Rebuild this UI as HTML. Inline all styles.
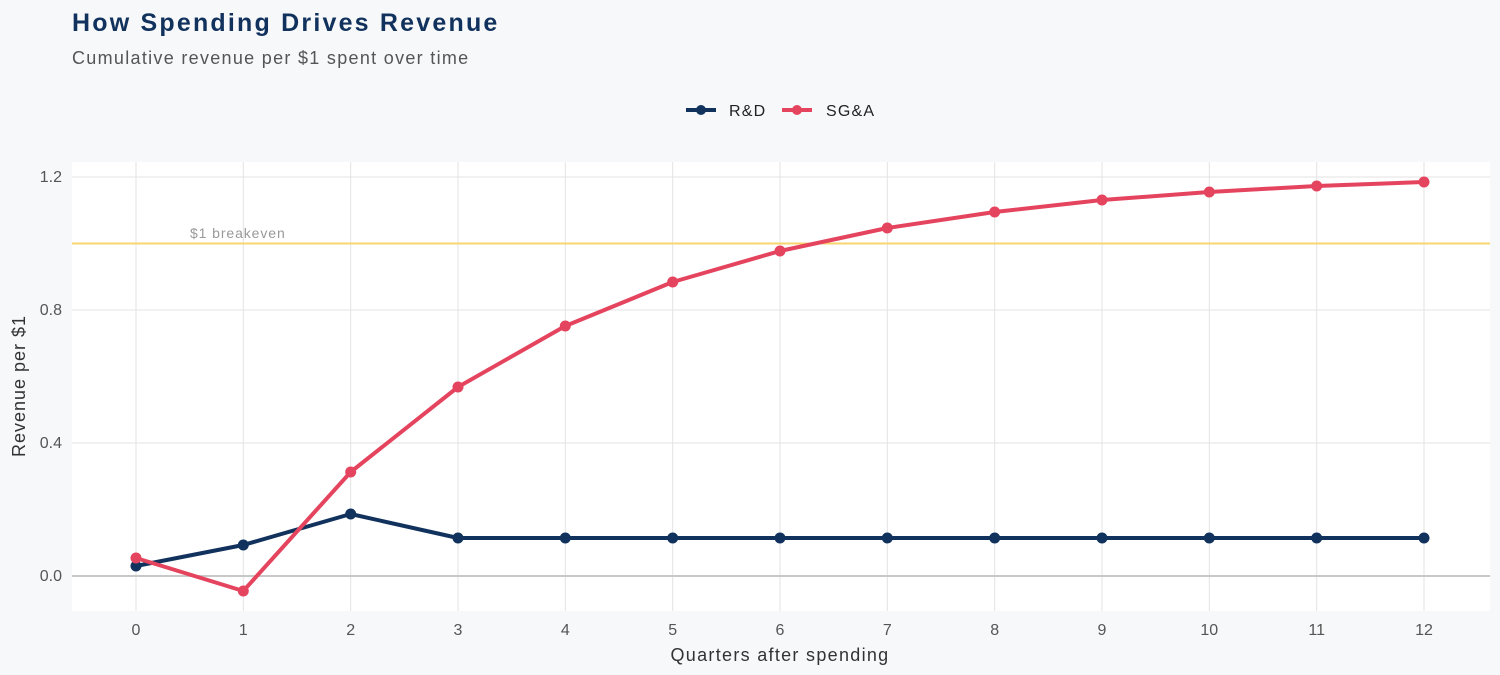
<!DOCTYPE html>
<html><head><meta charset="utf-8"><style>
html,body{margin:0;padding:0;background:#f7f8fa;}
svg{display:block;font-family:"Liberation Sans",sans-serif;}
</style></head><body>
<svg width="1500" height="675" viewBox="0 0 1500 675">
<rect width="1500" height="675" fill="#f7f8fa"/>
<text x="72" y="31" font-size="25" font-weight="bold" fill="#12325e" letter-spacing="2.2">How Spending Drives Revenue</text>
<text x="72" y="64" font-size="18" fill="#555" letter-spacing="1.3">Cumulative revenue per $1 spent over time</text>
<line x1="686" y1="110" x2="716" y2="110" stroke="#12325e" stroke-width="4"/><circle cx="701" cy="110" r="5" fill="#12325e"/>
<text x="729" y="116" font-size="16" fill="#222" letter-spacing="1.2">R&amp;D</text>
<line x1="782" y1="110" x2="812" y2="110" stroke="#e5445e" stroke-width="4"/><circle cx="797" cy="110" r="5" fill="#e5445e"/>
<text x="826" y="116" font-size="16" fill="#222" letter-spacing="1.2">SG&amp;A</text>
<rect x="72" y="162" width="1418" height="449" fill="#fff"/>
<g stroke="#e3e3e3" stroke-width="1">
<line x1="72" y1="177" x2="1490" y2="177"/><line x1="72" y1="310" x2="1490" y2="310"/><line x1="72" y1="443" x2="1490" y2="443"/>
<line x1="136" y1="162" x2="136" y2="611"/><line x1="243.3" y1="162" x2="243.3" y2="611"/><line x1="350.7" y1="162" x2="350.7" y2="611"/><line x1="458" y1="162" x2="458" y2="611"/><line x1="565.3" y1="162" x2="565.3" y2="611"/><line x1="672.7" y1="162" x2="672.7" y2="611"/><line x1="780" y1="162" x2="780" y2="611"/><line x1="887.3" y1="162" x2="887.3" y2="611"/><line x1="994.7" y1="162" x2="994.7" y2="611"/><line x1="1102" y1="162" x2="1102" y2="611"/><line x1="1209.3" y1="162" x2="1209.3" y2="611"/><line x1="1316.7" y1="162" x2="1316.7" y2="611"/><line x1="1424" y1="162" x2="1424" y2="611"/>
</g>
<line x1="72" y1="576" x2="1490" y2="576" stroke="#c8c8c8" stroke-width="2"/>
<line x1="72" y1="243.5" x2="1490" y2="243.5" stroke="#f9d56e" stroke-width="2"/>
<text x="190" y="238" font-size="14" fill="#999" letter-spacing="0.9">$1 breakeven</text>
<g font-size="16" fill="#555" text-anchor="end">
<text x="62" y="182">1.2</text><text x="62" y="315">0.8</text><text x="62" y="448">0.4</text><text x="62" y="581">0.0</text>
</g>
<g font-size="16" fill="#555" text-anchor="middle">
<text x="136" y="635">0</text><text x="243.3" y="635">1</text><text x="350.7" y="635">2</text><text x="458" y="635">3</text><text x="565.3" y="635">4</text><text x="672.7" y="635">5</text><text x="780" y="635">6</text><text x="887.3" y="635">7</text><text x="994.7" y="635">8</text><text x="1102" y="635">9</text><text x="1209.3" y="635">10</text><text x="1316.7" y="635">11</text><text x="1424" y="635">12</text>
</g>
<text x="780" y="661" font-size="18" fill="#333" text-anchor="middle" letter-spacing="1.3">Quarters after spending</text>
<text transform="translate(25,386) rotate(-90)" font-size="18" fill="#333" text-anchor="middle" letter-spacing="1">Revenue per $1</text>
<polyline fill="none" stroke="#12325e" stroke-width="4" stroke-linejoin="round" points="136,566 243.3,545 350.7,514 458,538 565.3,538 672.7,538 780,538 887.3,538 994.7,538 1102,538 1209.3,538 1316.7,538 1424,538"/>
<g fill="#12325e"><circle cx="136" cy="566" r="5.5"/><circle cx="243.3" cy="545" r="5.5"/><circle cx="350.7" cy="514" r="5.5"/><circle cx="458" cy="538" r="5.5"/><circle cx="565.3" cy="538" r="5.5"/><circle cx="672.7" cy="538" r="5.5"/><circle cx="780" cy="538" r="5.5"/><circle cx="887.3" cy="538" r="5.5"/><circle cx="994.7" cy="538" r="5.5"/><circle cx="1102" cy="538" r="5.5"/><circle cx="1209.3" cy="538" r="5.5"/><circle cx="1316.7" cy="538" r="5.5"/><circle cx="1424" cy="538" r="5.5"/></g>
<polyline fill="none" stroke="#e5445e" stroke-width="4" stroke-linejoin="round" points="136,558 243.3,591 350.7,472 458,387 565.3,326 672.7,282 780,251 887.3,228 994.7,212 1102,200 1209.3,192 1316.7,186 1424,182"/>
<g fill="#e5445e"><circle cx="136" cy="558" r="5.5"/><circle cx="243.3" cy="591" r="5.5"/><circle cx="350.7" cy="472" r="5.5"/><circle cx="458" cy="387" r="5.5"/><circle cx="565.3" cy="326" r="5.5"/><circle cx="672.7" cy="282" r="5.5"/><circle cx="780" cy="251" r="5.5"/><circle cx="887.3" cy="228" r="5.5"/><circle cx="994.7" cy="212" r="5.5"/><circle cx="1102" cy="200" r="5.5"/><circle cx="1209.3" cy="192" r="5.5"/><circle cx="1316.7" cy="186" r="5.5"/><circle cx="1424" cy="182" r="5.5"/></g>
</svg>
</body></html>
